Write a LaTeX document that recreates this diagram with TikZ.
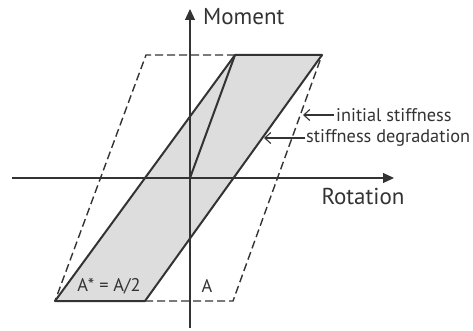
\documentclass[tikz,border=0pt]{standalone}
\usepackage{fontspec}
\setmainfont{PT Sans}
\usetikzlibrary{arrows.meta}
\definecolor{ink}{HTML}{333333}
\definecolor{shadegray}{HTML}{DDDDDD}
\tikzset{
  axisline/.style={draw=ink,line width=1.1pt,-{Triangle[length=11pt,width=10pt]}},
  plainaxis/.style={draw=ink,line width=1.1pt},
  edge/.style={draw=ink,line width=2pt,line join=round},
  dashedge/.style={draw=ink,line width=1.4pt,dash pattern=on 8pt off 4pt},
  pointer/.style={draw=ink,line width=1.1pt,-{Straight Barb[length=6pt,width=11pt]}},
  biglabel/.style={text=ink,font=\fontsize{23}{26}\selectfont,inner sep=0pt},
  smalllabel/.style={text=ink,font=\fontsize{18.3}{21}\selectfont,inner sep=0pt}
}
\begin{document}
\begin{tikzpicture}[x=1pt,y=-1pt]
\useasboundingbox (0,0) rectangle (473,331);
% key points
\coordinate (O) at (190,178);
\coordinate (yb) at (190,328);
\coordinate (yt) at (190,9);
\coordinate (xl) at (12,178);
\coordinate (xr) at (394,178);
\coordinate (p1) at (55,301);
\coordinate (p2) at (145,301);
\coordinate (p3) at (322,55);
\coordinate (p4) at (235,55);
\coordinate (d1) at (146,55);
\coordinate (d4) at (233,301);
\coordinate (tipA) at (303,115);
\coordinate (tipB) at (264,138);
% shaded loop
\fill[shadegray] (p1) -- (p2) -- (p3) -- (p4) -- cycle;
% axes
\draw[plainaxis] (O) -- (yb);
\draw[axisline] (O) -- (yt);
\draw[plainaxis] (O) -- (xl);
\draw[axisline] (O) -- (xr);
% initial stiffness envelope (dashed)
\draw[dashedge] (p4) -- (d1) -- (p1);
\draw[dashedge] (p2) -- (d4) -- (p3);
% degraded loop
\draw[edge] (p1) -- (p2) -- (p3) -- (p4) -- cycle;
\draw[edge] (O) -- (p4);
% labels
\node[biglabel,anchor=west] (mom) at (203,17) {Moment};
\node[biglabel] (rot) at (363,196) {Rotation};
\node[smalllabel,anchor=west] (init) at (336,115) {initial stiffness};
\node[smalllabel,anchor=west] (deg) at (306,138) {stiffness degradation};
\node[smalllabel] (astar) at (109,286) {A* = A/2};
\node[smalllabel] (a) at (207,286) {A};
\draw[pointer] (init.west) ++(-2,0) -- (tipA);
\draw[pointer] (deg.west) ++(-1,0) -- (tipB);
\end{tikzpicture}
\end{document}
